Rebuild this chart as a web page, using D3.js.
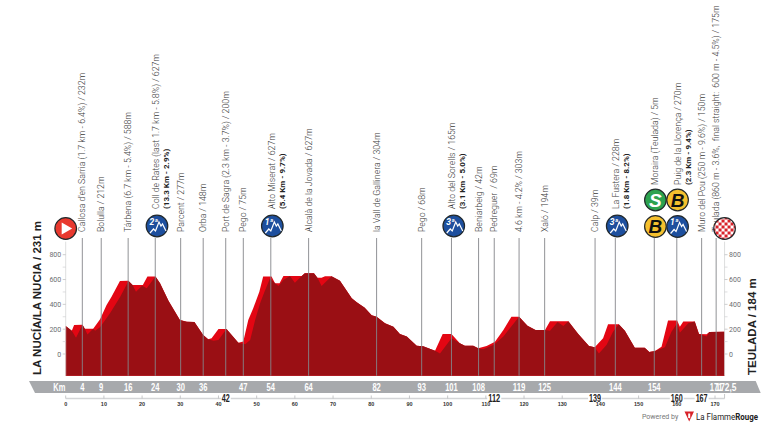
<!DOCTYPE html>
<html>
<head>
<meta charset="utf-8">
<script src="https://cdn.jsdelivr.net/npm/d3@7"></script>
<style>
html,body{margin:0;padding:0;background:#fff;}
svg{display:block;}
</style>
</head>
<body>
<svg id="chart" width="775" height="425"></svg>
<script>
// Stage 7 elevation profile, La Nucía to Teulada
const topKm = [0,1.6,2.2,4.4,5,7.2,9,10.7,12,14.2,16.4,17.5,20.2,21.4,23.5,24.7,26.9,29.9,31.7,33.7,36,37.3,38.2,40,42.1,45.2,46.5,47.8,49.1,50.7,51.7,53.9,54.8,56,57,61.8,62.6,65,65.9,67,67.9,69.6,71.8,74.9,76.2,78.3,80.1,81.4,83.6,85.8,87.5,89.3,91.9,93.6,96.7,98.7,101,103.2,104.5,106.7,108,110.2,112.4,114.6,116.7,118.7,120.9,123,125.5,126.8,131.6,134.2,137,138.5,140.7,142,144.8,146.4,149,151.6,152.8,154.3,156,157.7,160.1,160.8,161.7,164.7,165.8,167.8,168.5,172.5];
const topElev = [225,188,234,236,204,204,280,395,462,588,591,556,556,624,624,570,430,274,260,258,153,118,126,202,202,91,100,274,368,502,624,624,570,570,629,629,650,650,615,615,626,626,591,449,417,373,312,301,247,220,161,140,67,62,27,161,161,86,67,67,46,65,99,193,301,301,228,193,193,263,263,161,65,54,126,239,239,188,51,51,16,24,59,269,269,220,261,261,161,159,177,180];

// Shaded face of each climb: the lower edge of the bright band
const shadeKm = [1.6,2.7,4.4,5,5.7,7.2,7.7,9,11.6,14.2,15.9,16.4,17.5,18.4,20,21.2,23.5,37.3,38.7,40,42.1,45.2,47,48.3,49.6,50.9,52,53.5,54.8,55.7,57,58.7,60,61.8,65.9,67,69.6,96.7,98,101,103.2,108,109.3,112,114.6,116.3,118.7,125.5,126.8,128.8,130.3,131.6,138.5,139.6,141.6,143.3,144.8,154.3,156.9,158.6,160.1,160.8,163,164.7,165.8,167.8,168.5];
const shadeElev = [188,131,236,204,158,204,188,215,328,457,556,591,556,502,550,530,624,118,107,113,202,91,78,113,274,408,497,610,570,548,597,629,575,629,615,548,626,27,5,126,86,46,38,72,140,207,301,193,188,258,225,263,54,5,72,180,239,24,54,180,247,172,247,261,161,140,177];
// Stretches of road where the band is visible
const shadeBands = [[1.6,23.5],[37.3,42.1],[45.2,61.8],[65.9,69.6],[96.7,101],[108,118.7],[125.5,131.6],[138.5,144.8],[154.3,164.7],[165.8,168.5]];

const elevTicks = [0,200,400,600,800];
const elevMinor = [100,300,500,700];
const distTicks = [0,10,20,30,40,50,60,70,80,90,100,110,120,130,140,150,160,170];

const markerKm = [4.35,9.3,16.35,23.45,30.1,36,41.9,46.5,53.7,63.6,81.4,93.2,101,108.1,112.2,118.7,125.4,138.6,143.9,154.1,160,166.5,170.3];
const markerKmLabels = ["4","9","16","24","30","36","","47","54","64","82","93","101","108","","119","125","","144","154","","","171"];
const lowerKmLabels = [["42",41.9],["112",112.2],["139",138.6],["160",160],["167",166.5]];
const placeNames = [
  "Callosa d'en Sarria (1.7 km - 6.4%) / 232m",
  "Bolulla / 212m",
  "Tárbena (6.7 km - 5.4%) / 588m",
  "Coll de Rates (last 1.7 km - 5.8%) / 627m",
  "Parcent / 277m",
  "Orba / 148m",
  "Port de Sagra (2.3 km - 3.7%) / 200m",
  "Pego / 75m",
  "Alto Miserat / 627m",
  "Alcalà de la Jovada / 627m",
  "la Vall de Gallinera / 304m",
  "Pego / 68m",
  "Alto del Sorells / 165m",
  "Beniarbeig / 42m",
  "Pedreguer  / 69m",
  "4.6 km - 4.2% / 303m",
  "Xaló / 194m",
  "Calp / 39m",
  "La Fustera / 228m",
  "Moraira (Teulada) / 5m",
  "Puig de la Llorença / 270m",
  "Muro del Pou (250 m - 9.6%) / 150m",
  "Teulada (860 m - 3.6%,  final straight:  600 m - 4.5%) / 175m"
];
const climbStats = {3:"(13.3 Km - 2.9%)",8:"(5.4 Km - 9.7%)",12:"(3.1 Km - 5.0%)",18:"(1.8 Km - 8.2%)",20:"(2.3 Km - 9.4%)"};
// Names that sit above one badge, and above two stacked badges
const aboveOneBadge = [3,8,12,18];
const aboveTwoBadges = [19,20];
const climbBadges = [["2ª",23.9,226],["1ª",54.1,226],["3ª",101.6,226],["3ª",144.4,226],["1ª",160.2,226.5]];
const bonusBadges = [["B","#f5c02e",154.4,226.5],["S","#2ca24f",154.4,200],["B","#f5c02e",160.2,200]];

const svg = d3.select("#chart");
const x = d3.scaleLinear().domain([0,170]).range([65.7,715]);
const y = d3.scaleLinear().domain([0,800]).range([354,254.7]);
const floor = y(-175);
const finishKm = 172.5;

const NARROW = "'Liberation Sans Narrow','Liberation Sans',sans-serif";
const LABEL = "Roboto,'Liberation Sans',sans-serif";

// Condensed figures of the ribbon and the scale: fixed width per character
function condensed(sel,perChar){
  return sel.attr("font-family",NARROW).attr("font-weight",700)
    .attr("textLength",d=>{const s=typeof d==="string"?d:(Array.isArray(d)?d.find(v=>typeof v==="string"):String(d));return s.length*perChar;})
    .attr("lengthAdjust","spacingAndGlyphs");
}

// Bright top face, then the darker body cut under it
const face = d3.area().x(d=>x(d[0])).y0(floor).y1(d=>y(d[1]));
svg.append("path").datum(d3.zip(topKm,topElev)).attr("d",face).attr("fill","#e30613");

const allKm = Array.from(new Set(topKm.concat(shadeKm))).sort(d3.ascending);
const topAt = d3.scaleLinear().domain(topKm).range(topElev);
const shadeAt = d3.scaleLinear().domain(shadeKm).range(shadeElev);
const inBand = km => shadeBands.find(b=>km>=b[0]&&km<=b[1]);
const bodyKm = allKm.filter(k=>!inBand(k) || shadeKm.includes(k));
const bodyElev = bodyKm.map(k=>inBand(k)?Math.min(shadeAt(k),topAt(k)):topAt(k));
svg.append("path").datum(d3.zip(bodyKm,bodyElev)).attr("d",face).attr("fill","#9a0f14");

// Vertical markers rising from the profile to their names
svg.append("g").selectAll("line").data(markerKm).join("line")
  .attr("x1",d=>x(d)).attr("x2",d=>x(d)).attr("y1",238).attr("y2",floor)
  .attr("stroke","#85868a").attr("stroke-width",0.9);

// Elevation axes on both sides
function elevAxis(side){
  const xPos = side<0 ? x(0) : x(finishKm);
  const g = svg.append("g");
  g.append("line").attr("x1",xPos).attr("x2",xPos).attr("y1",y(800)-13).attr("y2",floor).attr("stroke","#d4d5d7").attr("stroke-width",0.8);
  g.selectAll("line.maj").data(elevTicks).join("line").attr("class","maj")
    .attr("x1",xPos).attr("x2",xPos+side*3).attr("y1",d=>y(d)).attr("y2",d=>y(d)).attr("stroke","#b9babc").attr("stroke-width",0.7);
  g.selectAll("line.min").data(elevMinor).join("line").attr("class","min")
    .attr("x1",xPos).attr("x2",xPos+side*3).attr("y1",d=>y(d)).attr("y2",d=>y(d)).attr("stroke","#c9cacc").attr("stroke-width",0.6);
  g.selectAll("text").data(elevTicks).join("text")
    .attr("x",xPos+side*4.5).attr("y",d=>y(d)+2.5).attr("text-anchor",side<0?"end":"start")
    .attr("font-family",LABEL).attr("font-size",7).attr("fill","#6d6e71").text(d=>d);
}
elevAxis(-1); elevAxis(1);

// Grey distance ribbon
svg.append("polygon").attr("points",[[29,381],[755.7,381],[760.7,393],[35,393]].join(" ")).attr("fill","#a7a9ac");
svg.append("text").datum("Km").attr("x",59.3).attr("y",390.7).attr("text-anchor","middle")
  .call(condensed,6).attr("font-size",11).attr("fill","#fff").text("Km");
svg.append("g").selectAll("text").data(d3.zip(markerKm,markerKmLabels).filter(d=>d[1])).join("text")
  .attr("x",d=>x(d[0])).attr("y",390.7).attr("text-anchor","middle")
  .call(condensed,4.2).attr("font-size",11).attr("fill","#fff").text(d=>d[1]);
svg.append("text").datum("172,5").attr("x",726).attr("y",390.7).attr("text-anchor","middle")
  .call(condensed,4.2).attr("font-size",11).attr("fill","#fff").text("172,5");

// Small distance scale below the ribbon
svg.append("line").attr("x1",x(0)).attr("x2",x(finishKm)).attr("y1",398.5).attr("y2",398.5).attr("stroke","#d4d5d7").attr("stroke-width",1.6);
svg.append("g").selectAll("line").data(distTicks).join("line")
  .attr("x1",d=>x(d)).attr("x2",d=>x(d)).attr("y1",395.5).attr("y2",398.5).attr("stroke","#b9babc").attr("stroke-width",0.8);
svg.append("line").attr("x1",x(finishKm)).attr("x2",x(finishKm)).attr("y1",394).attr("y2",398.5).attr("stroke","#b9babc").attr("stroke-width",0.8);
svg.append("g").selectAll("text").data(distTicks).join("text")
  .attr("x",d=>x(d)).attr("y",406).attr("text-anchor","middle")
  .attr("font-family",NARROW).attr("font-weight",700).attr("font-size",5.5).attr("fill","#333").text(d=>d);
const lower = svg.append("g");
lower.selectAll("rect").data(lowerKmLabels).join("rect")
  .attr("x",d=>x(d[1])-d[0].length*2-1).attr("y",394.5).attr("width",d=>d[0].length*4+2).attr("height",6.5).attr("fill","#fff");
lower.selectAll("text").data(lowerKmLabels).join("text")
  .attr("x",d=>x(d[1])).attr("y",401.5).attr("text-anchor","middle")
  .call(condensed,4).attr("font-size",10.5).attr("fill","#222").text(d=>d[0]);

// Rotated place names
const names = svg.append("g");
placeNames.forEach((name,i)=>{
  const base = aboveTwoBadges.includes(i) ? 185 : aboveOneBadge.includes(i) ? 209 : 232;
  const shift = climbStats[i] || aboveTwoBadges.includes(i) ? 1 : 0;
  const g = names.append("g").attr("transform",`translate(${x(markerKm[i])+3+shift},${base}) rotate(-90)`);
  g.append("text").attr("font-family",LABEL).attr("font-weight",300).attr("font-size",8.75).attr("fill","#3a3a3a").attr("xml:space","preserve").text(name);
  if(climbStats[i]) g.append("text").attr("y",9.8).attr("font-family",LABEL).attr("font-weight",700).attr("font-size",8).attr("fill","#222").text(climbStats[i]);
});

// Circular badges
const badge = svg.append("g");
function disc(cx,cy,fill){
  return badge.append("circle").attr("cx",cx).attr("cy",cy).attr("r",10.8).attr("fill",fill).attr("stroke","#22282a").attr("stroke-width",1.2);
}
const mountain = d3.line();
climbBadges.forEach(([lab,km,cy])=>{
  const cx = x(km);
  disc(cx,cy,"#1d4f9e");
  badge.append("text").attr("x",cx-7.5).attr("y",cy-1.5).attr("font-family",LABEL).attr("font-weight",700).attr("font-style","italic").attr("font-size",8.5).attr("fill","#fff").text(lab);
  badge.append("path").attr("d",mountain([[cx-7,cy+7],[cx-3.5,cy+3],[cx-1.5,cy+5],[cx+2,cy-4],[cx+4,cy],[cx+5.5,cy-2],[cx+9,cy+5]]))
    .attr("fill","none").attr("stroke","#fff").attr("stroke-width",1.2);
});
bonusBadges.forEach(([lab,fill,km,cy])=>{
  const cx = x(km);
  disc(cx,cy,fill);
  badge.append("text").attr("x",cx).attr("y",cy+6.5).attr("text-anchor","middle").attr("font-family","'Liberation Sans',sans-serif").attr("font-weight",700).attr("font-style","italic").attr("font-size",19).attr("fill",lab==="S"?"#fff":"#111").text(lab);
});

// Start badge
disc(x(0),228.5,"#e8392e");
badge.append("path").attr("d",d3.line()([[x(0)-4,222.5],[x(0)+6.5,228.5],[x(0)-4,234.5]])+"Z").attr("fill","#fff");

// Finish badge, chequered
const fx = x(finishKm), fy = 228.5, cell = 3;
svg.append("clipPath").attr("id","flag").append("circle").attr("cx",fx).attr("cy",fy).attr("r",10.8);
const flag = svg.append("g").attr("clip-path","url(#flag)");
flag.append("rect").attr("x",fx-11).attr("y",fy-11).attr("width",22).attr("height",22).attr("fill","#fff");
d3.range(8).forEach(r=>d3.range(8).forEach(c=>{
  if((r+c)%2===0) flag.append("rect").attr("x",fx-12+c*cell).attr("y",fy-12+r*cell).attr("width",cell).attr("height",cell).attr("fill","#d8232a");
}));
svg.append("circle").attr("cx",fx).attr("cy",fy).attr("r",10.8).attr("fill","none").attr("stroke","#22282a").attr("stroke-width",1.2);

// Start and finish titles
svg.append("text").attr("transform","translate(41,375) rotate(-90)")
  .attr("font-family",NARROW).attr("font-weight",700).attr("font-size",11.5).attr("fill","#222").text("LA NUCÍA/LA NUCIA / 231 m");
svg.append("text").attr("transform","translate(756,375) rotate(-90)")
  .attr("font-family",NARROW).attr("font-weight",700).attr("font-size",11.5).attr("fill","#222").text("TEULADA / 184 m");

// Credit line
svg.append("text").attr("x",642).attr("y",419).attr("font-family",LABEL).attr("font-size",7).attr("fill","#777").text("Powered by");
svg.append("path").attr("d",d3.line()([[684.5,411.5],[694,411.5],[689.2,421.5]])+"Z").attr("fill","#d8232a");
svg.append("path").attr("d",d3.line()([[688.2,413.5],[690.2,413.5],[690.2,417.5],[689.2,418.5],[688.2,417.5]])+"Z").attr("fill","#fff");
svg.append("text").attr("x",696).attr("y",420).attr("font-family",LABEL).attr("font-size",9).attr("fill","#222")
  .attr("textLength",62).attr("lengthAdjust","spacingAndGlyphs")
  .html('La Flamme<tspan font-weight="700">Rouge</tspan>');
</script>
</body>
</html>
